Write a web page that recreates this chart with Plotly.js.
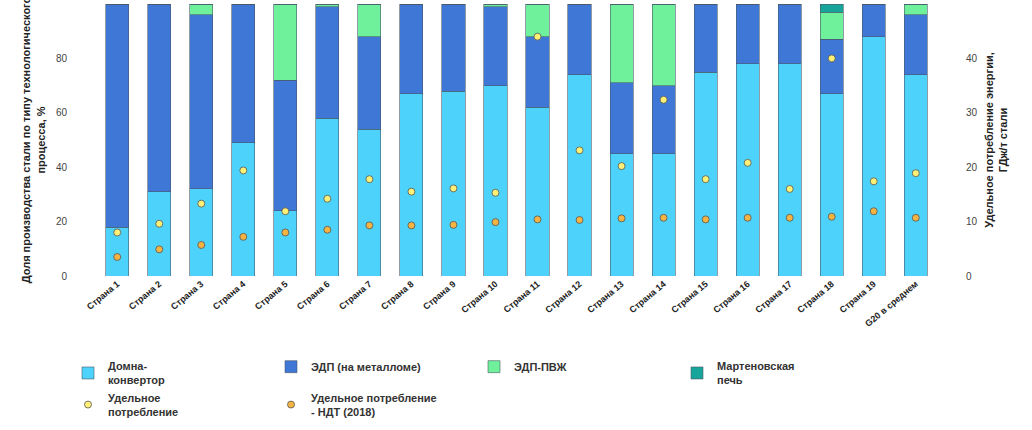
<html><head><script src="https://cdn.plot.ly/plotly-3.0.1.min.js"></script></head><body style="margin:0">
<div id="c" style="width:1032px;height:430px"></div>
<script>
const categories=["Страна 1","Страна 2","Страна 3","Страна 4","Страна 5","Страна 6","Страна 7","Страна 8","Страна 9","Страна 10","Страна 11","Страна 12","Страна 13","Страна 14","Страна 15","Страна 16","Страна 17","Страна 18","Страна 19","G20 в среднем"];
const bofShare=[18,31,32,49,24,58,54,67,68,70,62,74,45,45,75,78,78,67,88,74];
const eafScrap=[82,69,64,51,48,41,34,33,32,29,26,26,26,25,25,22,22,20,12,22];
const eafDri=[0,0,4,0,28,1,12,0,0,1,12,0,29,30,0,0,0,10,0,4];
const openHearth=[0,0,0,0,0,0,0,0,0,0,0,0,0,0,0,0,0,3,0,0];
const energy=[8,9.6,13.3,19.4,11.9,14.2,17.8,15.5,16.1,15.3,44,23.1,20.2,32.4,17.8,20.8,16,40,17.4,18.9];
const energyBAT=[3.5,4.9,5.7,7.2,8,8.5,9.3,9.3,9.4,9.9,10.4,10.3,10.6,10.7,10.4,10.7,10.7,10.9,11.9,10.7];
const bar=(y,name,color)=>({type:'bar',x:categories,y,name,marker:{color,line:{color:'#4a5a6a',width:0.6}},width:0.55});
const pt=(y,name,color)=>({type:'scatter',mode:'markers',x:categories,y,name,yaxis:'y2',marker:{color,size:7,line:{color:'#555',width:0.8}}});
const data=[bar(bofShare,'<b>Домна-<br>конвертор</b>','#4dd3fb'),bar(eafScrap,'<b>ЭДП (на металломе)</b>','#3e77d5'),bar(eafDri,'<b>ЭДП-ПВЖ</b>','#6ff09a'),bar(openHearth,'<b>Мартеновская<br>печь</b>','#17a59b'),pt(energy,'<b>Удельное<br>потребление</b>','#fff176'),pt(energyBAT,'<b>Удельное потребление<br>- НДТ (2018)</b>','#f5b342')];
const f={family:'Liberation Sans, Arial',size:10,color:'#444'};
Plotly.newPlot('c',data,{barmode:'stack',width:1032,height:430,margin:{l:68,r:67,t:4,b:119},font:f,showlegend:true,
legend:{orientation:'h',x:0.0,y:-0.28,yanchor:'top',xanchor:'left',font:{size:11,color:'#333',family:'Liberation Sans, Arial'},traceorder:'normal',entrywidth:158,itemwidth:30},
xaxis:{tickangle:-40,tickfont:{size:9,color:'#222'},showline:false,zeroline:false,tickprefix:'<b>',ticksuffix:'</b>'},
yaxis:{range:[0,100],dtick:20,showgrid:false,zeroline:false,showline:false,ticks:'',title:{text:'<b>Доля производства стали по типу технологического<br>процесса, %</b>',font:{size:11,color:'#222'},standoff:8}},
yaxis2:{range:[0,50],dtick:10,overlaying:'y',side:'right',showgrid:false,zeroline:false,title:{text:'<b>Удельное потребление энергии,<br>ГДж/т стали</b>',font:{size:11,color:'#222'},standoff:8}},
plot_bgcolor:'#fff'},{displayModeBar:false});
</script></body></html>
